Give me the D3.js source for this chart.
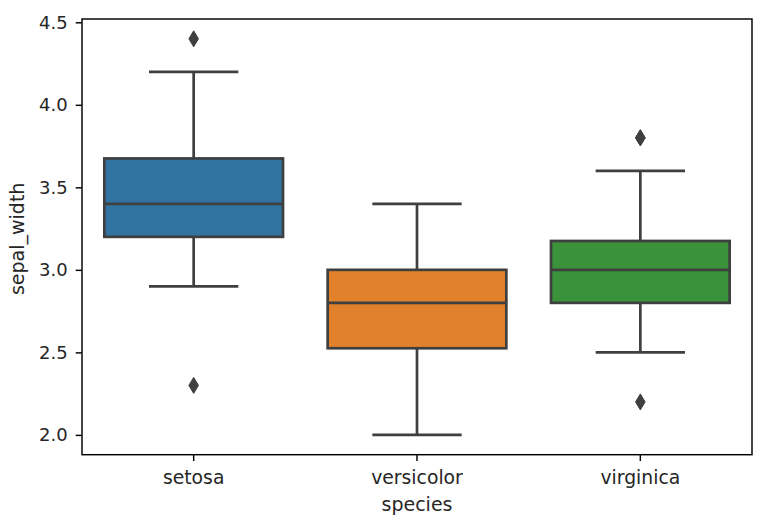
<!DOCTYPE html>
<html><head><meta charset="utf-8">
<script src="https://cdn.jsdelivr.net/npm/d3@7"></script>
<style>body{margin:0;background:#fff;} svg{display:block;font-family:"DejaVu Sans",sans-serif;}</style>
</head><body>
<svg id="chart" width="781" height="529"></svg>
<script>
const categories = ["setosa", "versicolor", "virginica"];
const q1 = [3.2, 2.525, 2.8];
const median = [3.4, 2.8, 3.0];
const q3 = [3.675, 3.0, 3.175];
const whiskerLow = [2.9, 2.0, 2.5];
const whiskerHigh = [4.2, 3.4, 3.6];
const outliers = [[4.4, 2.3], [], [3.8, 3.8, 2.2]];
const colors = ["#3274a1", "#e1812c", "#3a923a"];
const yTicks = [2.0, 2.5, 3.0, 3.5, 4.0, 4.5];

const svg = d3.select("#chart");
const m = {left: 82, top: 19, right: 29, bottom: 74.3};
const W = 781 - m.left - m.right, H = 529 - m.top - m.bottom;
const g = svg.append("g").attr("transform", `translate(${m.left},${m.top})`);

const x = d3.scaleBand().domain(categories).range([0, W]).paddingInner(0).paddingOuter(0);
const y = d3.scaleLinear().domain([1.88, 4.52]).range([H, 0]);
const gray = "#3f3f3f";
const lw = 2.7;
const bw = x.bandwidth() * 0.8;

const boxes = categories.map((c, i) => ({c, i, q1: q1[i], med: median[i], q3: q3[i], lo: whiskerLow[i], hi: whiskerHigh[i], out: outliers[i], col: colors[i]}));

const bg = g.selectAll(".box").data(boxes).join("g").attr("class", "box");
const cx = d => x(d.c) + x.bandwidth() / 2;
// whiskers
bg.append("line").attr("x1", cx).attr("x2", cx).attr("y1", d => y(d.q3)).attr("y2", d => y(d.hi)).attr("stroke", gray).attr("stroke-width", lw);
bg.append("line").attr("x1", cx).attr("x2", cx).attr("y1", d => y(d.q1)).attr("y2", d => y(d.lo)).attr("stroke", gray).attr("stroke-width", lw);
// caps
bg.append("line").attr("x1", d => cx(d) - bw / 4).attr("x2", d => cx(d) + bw / 4).attr("y1", d => y(d.hi)).attr("y2", d => y(d.hi)).attr("stroke", gray).attr("stroke-width", lw);
bg.append("line").attr("x1", d => cx(d) - bw / 4).attr("x2", d => cx(d) + bw / 4).attr("y1", d => y(d.lo)).attr("y2", d => y(d.lo)).attr("stroke", gray).attr("stroke-width", lw);
// box
bg.append("rect").attr("x", d => cx(d) - bw / 2).attr("width", bw).attr("y", d => y(d.q3)).attr("height", d => y(d.q1) - y(d.q3))
  .attr("fill", d => d.col).attr("stroke", gray).attr("stroke-width", lw);
// median
bg.append("line").attr("x1", d => cx(d) - bw / 2).attr("x2", d => cx(d) + bw / 2).attr("y1", d => y(d.med)).attr("y2", d => y(d.med)).attr("stroke", gray).attr("stroke-width", lw);
// outliers (thin diamonds)
bg.selectAll(".out").data(d => d.out.map(v => ({v, d}))).join("path").attr("class", "out")
  .attr("d", o => { const px = cx(o.d), py = y(o.v), hw = 4.8, hh = 8; return `M${px},${py - hh}L${px + hw},${py}L${px},${py + hh}L${px - hw},${py}Z`; })
  .attr("fill", gray).attr("stroke", gray).attr("stroke-width", 1);

// axes
const yAxis = d3.axisLeft(y).tickValues(yTicks).tickFormat(d3.format(".1f")).tickSize(6.3).tickSizeOuter(0).tickPadding(8);
const ya = g.append("g").call(yAxis);
const xAxis = d3.axisBottom(x).tickSize(6.3).tickSizeOuter(0).tickPadding(6);
const xa = g.append("g").attr("transform", `translate(0,${H})`).call(xAxis);
[ya, xa].forEach(a => {
  a.select(".domain").remove();
  a.selectAll(".tick line").attr("stroke", "#000").attr("stroke-width", 1.45);
  a.selectAll(".tick text").attr("fill", "#262626").style("font-family", "DejaVu Sans");
});
ya.selectAll(".tick text").style("font-size", "18px");
xa.selectAll(".tick text").style("font-size", "18.8px").attr("dy", "0.93em");

// frame
g.append("rect").attr("x", 0).attr("y", 0).attr("width", W).attr("height", H).attr("fill", "none").attr("stroke", "#000").attr("stroke-width", 1.45);

// labels
svg.append("text").attr("x", m.left + W / 2).attr("y", 511).attr("text-anchor", "middle").attr("fill", "#262626").style("font-size", "19px").text("species");
svg.append("text").attr("transform", `translate(24,${m.top + H / 2 + 2}) rotate(-90)`).attr("text-anchor", "middle").attr("fill", "#262626").style("font-size", "19px").text("sepal_width");
</script>
</body></html>
